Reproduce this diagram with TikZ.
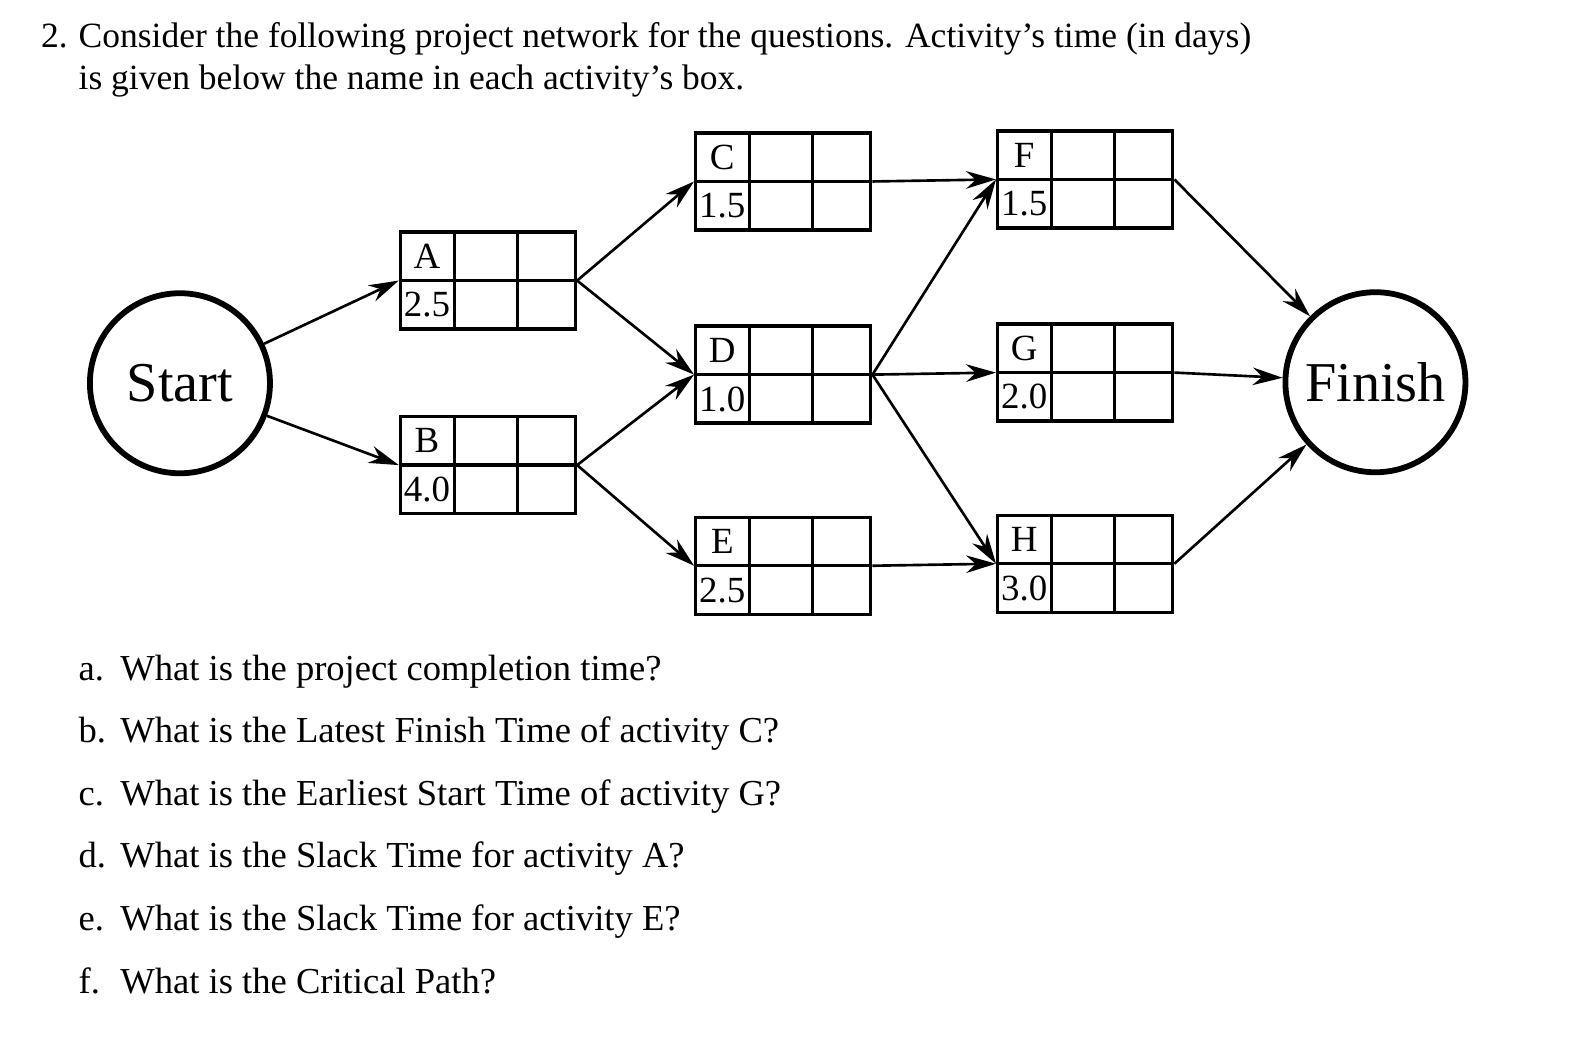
\documentclass[tikz,border=0pt]{standalone}
\usepackage{fontspec}
\setmainfont{Liberation Serif}
\usetikzlibrary{arrows.meta}

\begin{document}
\begin{tikzpicture}[x=0.02033cm, y=-0.02033cm,
    event/.style={circle, draw, line width=3.3pt, minimum size=3.6cm, inner sep=0pt, font=\fontsize{32}{36}\selectfont},
    actbox/.style={rectangle, draw, line width=1.9pt, minimum width=3.5cm, minimum height=1.94cm, inner sep=0pt},
    cell/.style={inner sep=0pt, font=\fontsize{21}{24}\selectfont},
    link/.style={-{Stealth[length=17pt, width=10pt]}, line width=1.5pt},
    txt/.style={anchor=base west, inner sep=0pt, font=\fontsize{20.2}{24}\selectfont},
    ask/.style={txt, font=\fontsize{20.8}{24}\selectfont}
  ]
    \useasboundingbox (0,0) rectangle (1568,1027);

    % heading
    \node[txt] (num) at (40,47) {2.};
    \node[txt] (head1) at (77,47) {Consider the following project network for the questions. Activity’s time (in days)};
    \node[txt] (head2) at (77,88) {is given below the name in each activity’s box.};

    % events
    \node[event] (Start) at (177,377) {Start};
    \node[event] (Finish) at (1353,376) {Finish};

    % activities
    \foreach \n/\x/\y/\t in {A/480/276/2.5, B/480/457.5/4.0, C/770.5/178.5/1.5, D/770.5/368.5/1.0,
        E/770.5/556.5/2.5, F/1067.5/176.5/1.5, G/1067.5/366.5/2.0, H/1067.5/554.5/3.0}{
      \node[actbox] (\n) at (\x,\y) {};
      \draw[line width=1.9pt] (\x-33,\y-48.5) -- (\x-33,\y+48.5)
        (\x+29,\y-48.5) -- (\x+29,\y+48.5) (\x-87,\y) -- (\x+87,\y);
      \node[cell] (\n-name) at (\x-60,\y-24) {\n};
      \node[cell] (\n-time) at (\x-60,\y+24) {\t};
    }

    \draw[link] (Start) -- (A.west);
    \draw[link] (Start) -- (B.west);
    \foreach \a/\b in {A/C, A/D, B/D, B/E, C/F, D/F, D/G, D/H, E/H}
      \draw[link] (\a.east) -- (\b.west);
    \foreach \a in {F, G, H}
      \draw[link] (\a.east) -- (Finish);

    % questions
    \foreach \l/\q/\y in {a./What is the project completion time?/669,
        b./What is the Latest Finish Time of activity C?/730.5,
        c./What is the Earliest Start Time of activity G?/792,
        d./What is the Slack Time for activity A?/853.5,
        e./What is the Slack Time for activity E?/915,
        f./What is the Critical Path?/977}{
      \node[ask] at (77,\y) {\l};
      \node[ask] at (118,\y) {\q};
    }
  \end{tikzpicture}
\end{document}
